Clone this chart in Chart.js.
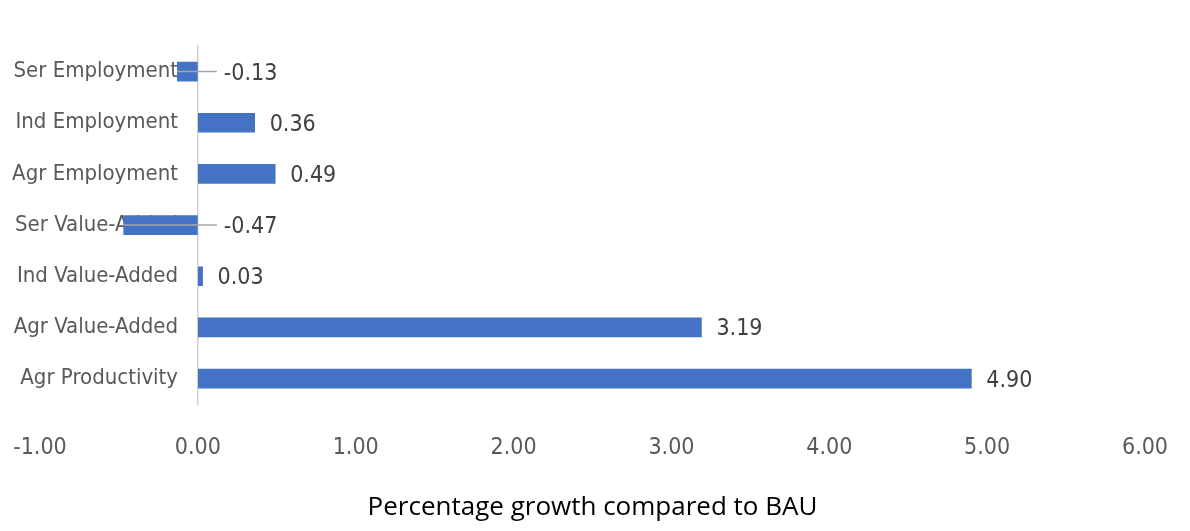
<!DOCTYPE html>
<html>
<head>
<meta charset="utf-8">
<script src="https://cdn.jsdelivr.net/npm/chart.js@4"></script>
<style>
  html, body { margin: 0; padding: 0; background: #fff; }
  #wrap { width: 1190px; height: 531px; }
</style>
</head>
<body>
<div id="wrap"><canvas id="growthChart"></canvas></div>
<script>
// categories, top to bottom
const categories = [
  'Ser Employment',
  'Ind Employment',
  'Agr Employment',
  'Ser Value-Added',
  'Ind Value-Added',
  'Agr Value-Added',
  'Agr Productivity'
];
// percentage growth vs BAU
const growthValues = [-0.13, 0.36, 0.49, -0.47, 0.03, 3.19, 4.90];
// x axis range
const xMin = -1;
const xMax = 6;
const xStep = 1;
const axisTitle = 'Percentage growth compared to BAU';

const narrowFont = '"Liberation Sans Narrow", "DejaVu Sans Condensed", sans-serif';

// draws the value labels, with a leader line for the negative bars
const valueLabels = {
  id: 'valueLabels',
  afterDatasetsDraw(chart) {
    const ctx = chart.ctx;
    const xScale = chart.scales.x;
    const zeroX = xScale.getPixelForValue(0);
    const meta = chart.getDatasetMeta(0);
    ctx.save();
    ctx.font = '23px ' + narrowFont;
    ctx.fillStyle = '#404040';
    ctx.textBaseline = 'middle';
    ctx.textAlign = 'left';
    meta.data.forEach((bar, i) => {
      const v = growthValues[i];
      const text = v.toFixed(2);
      if (v >= 0) {
        ctx.fillText(text, bar.x + 15, bar.y + 2);
      } else {
        const labelX = zeroX + 26;
        ctx.strokeStyle = '#a6a6a6';
        ctx.lineWidth = 1.5;
        ctx.beginPath();
        ctx.moveTo(bar.x, bar.y);
        ctx.lineTo(labelX - 7, bar.y);
        ctx.stroke();
        ctx.fillText(text, labelX, bar.y + 2);
      }
    });
    ctx.restore();
  }
};

new Chart(document.getElementById('growthChart'), {
  type: 'bar',
  data: {
    labels: categories,
    datasets: [{
      data: growthValues,
      backgroundColor: '#4472C4',
      barThickness: 19
    }]
  },
  options: {
    indexAxis: 'y',
    responsive: true,
    maintainAspectRatio: false,
    animation: false,
    layout: {
      padding: { left: 40, right: 45, top: 46, bottom: 4 }
    },
    plugins: {
      legend: { display: false },
      tooltip: { enabled: false }
    },
    scales: {
      x: {
        min: xMin,
        max: xMax,
        // transparent grid so the tick length only spaces the labels
        grid: { display: true, color: 'rgba(0,0,0,0)', drawTicks: true, tickLength: 30 },
        border: { display: false },
        ticks: {
          stepSize: xStep,
          padding: 0,
          color: '#595959',
          font: { family: narrowFont, size: 23 },
          callback: v => Number(v).toFixed(2)
        },
        title: {
          display: true,
          text: axisTitle,
          color: '#000',
          font: { family: '"Open Sans", sans-serif', size: 26 },
          padding: { top: 30, bottom: 4 }
        }
      },
      y: {
        // axis line sits on x = 0
        position: { x: 0 },
        afterFit: scale => { scale.width = 0; },
        grid: { display: false, drawTicks: false },
        border: { display: true, color: '#d0d0d0', width: 1.5 },
        ticks: {
          color: '#595959',
          font: { family: narrowFont, size: 22 },
          // padding is ignored for a value-positioned axis, so pad with en spaces
          callback: function (v) { return this.getLabelForValue(v) + '\u2002\u2002'; }
        }
      }
    }
  },
  plugins: [valueLabels]
});
</script>
</body>
</html>
